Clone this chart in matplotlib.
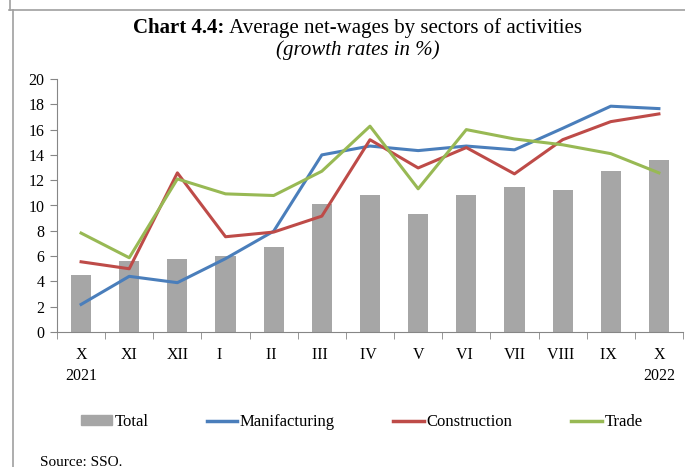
import numpy as np
import matplotlib.pyplot as plt
from matplotlib.lines import Line2D
from matplotlib.patches import Patch

# months Oct 2021 .. Oct 2022
months = ['X\n2021', 'XI', 'XII', 'I   ', 'II ', 'III ', 'IV ', 'V', 'VI ', 'VII', 'VIII ', 'IX ', 'X\n2022']
total = [4.47, 5.6, 5.8, 6.0, 6.74, 10.1, 10.8, 9.34, 10.8, 11.45, 11.24, 12.74, 13.58]
manufacturing = [2.18, 4.4, 3.9, 5.8, 7.97, 14.0, 14.7, 14.34, 14.7, 14.4, 16.1, 17.85, 17.66]
construction = [5.55, 5.0, 12.58, 7.53, 7.9, 9.16, 15.2, 12.97, 14.58, 12.5, 15.2, 16.63, 17.24]
trade = [7.82, 5.87, 12.1, 10.92, 10.79, 12.71, 16.27, 11.32, 16.0, 15.26, 14.8, 14.1, 12.58]

plt.rcParams['font.family'] = ['Liberation Serif', 'DejaVu Serif']

grey = '#a6a6a6'
blue = '#4a7ebb'
red = '#be4b48'
green = '#98b954'

fig = plt.figure(figsize=(6.85, 4.67), dpi=100)
ax = fig.add_axes([57/685, 1-332/467, 626/685, 253/467])

x = np.arange(len(months))
ax.bar(x, total, width=0.42, color=grey, zorder=1)
ax.plot(x, manufacturing, color=blue, lw=2.2, zorder=2)
ax.plot(x, construction, color=red, lw=2.2, zorder=2)
ax.plot(x, trade, color=green, lw=2.2, zorder=2)

ax.set_xlim(-0.5, len(months) - 0.5)
ax.set_ylim(0, 20)
ax.set_yticks(range(0, 21, 2))
ax.set_xticks(x)
ax.set_xticklabels(months, fontsize=11.5, linespacing=1.4, va='top')
ax.set_xticks(np.arange(-0.5, len(months), 1), minor=True)
ax.tick_params(axis='x', which='major', length=0, pad=11)
ax.tick_params(axis='x', which='minor', length=5, color='#868686', direction='out')
ax.tick_params(axis='y', length=5, color='#868686', labelsize=11.5, pad=4)
for s in ['top', 'right']:
    ax.spines[s].set_visible(False)
for s in ['left', 'bottom']:
    ax.spines[s].set_color('#868686')

# title: bold part + regular part, centred together
fs = 15
y_t = 1 - 28/467
t1 = fig.text(0, y_t, 'Chart 4.4:', fontsize=fs, weight='bold', va='center')
t2 = fig.text(0, y_t, ' Average net-wages by sectors of activities', fontsize=fs, va='center')
r = fig.canvas.get_renderer()
w1 = t1.get_window_extent(r).width / fig.bbox.width
w2 = t2.get_window_extent(r).width / fig.bbox.width
x0 = 0.522 - (w1 + w2) / 2
t1.set_x(x0)
t2.set_x(x0 + w1)
fig.text(0.522, 1-50/467, '(growth rates in %)', ha='center', va='center',
         fontsize=fs, style='italic')

handles = [Patch(color=grey),
           Line2D([], [], color=blue, lw=2.5),
           Line2D([], [], color=red, lw=2.5),
           Line2D([], [], color=green, lw=2.5)]
fig.legend(handles, ['Total', 'Manifacturing', 'Construction', 'Trade'],
           loc='center', bbox_to_anchor=(0.528, 1-422/467), ncol=4, frameon=False,
           fontsize=12, handlelength=1.85, handletextpad=0.15, columnspacing=3.5,
           handleheight=0.55)

fig.text(40/685, 1-462/467, 'Source: SSO.', fontsize=11, va='center')

# frame around the chart
fig.add_artist(Line2D([10/685, 10/685], [1, 1-10/467], color='#a0a0a0', lw=1.2))
fig.add_artist(Line2D([9/685, 1], [1-10/467, 1-10/467], color='#a0a0a0', lw=1.2))
fig.add_artist(Line2D([13/685, 13/685], [1-10/467, 0], color='#a0a0a0', lw=1.2))

fig.savefig('out.png', dpi=100)
